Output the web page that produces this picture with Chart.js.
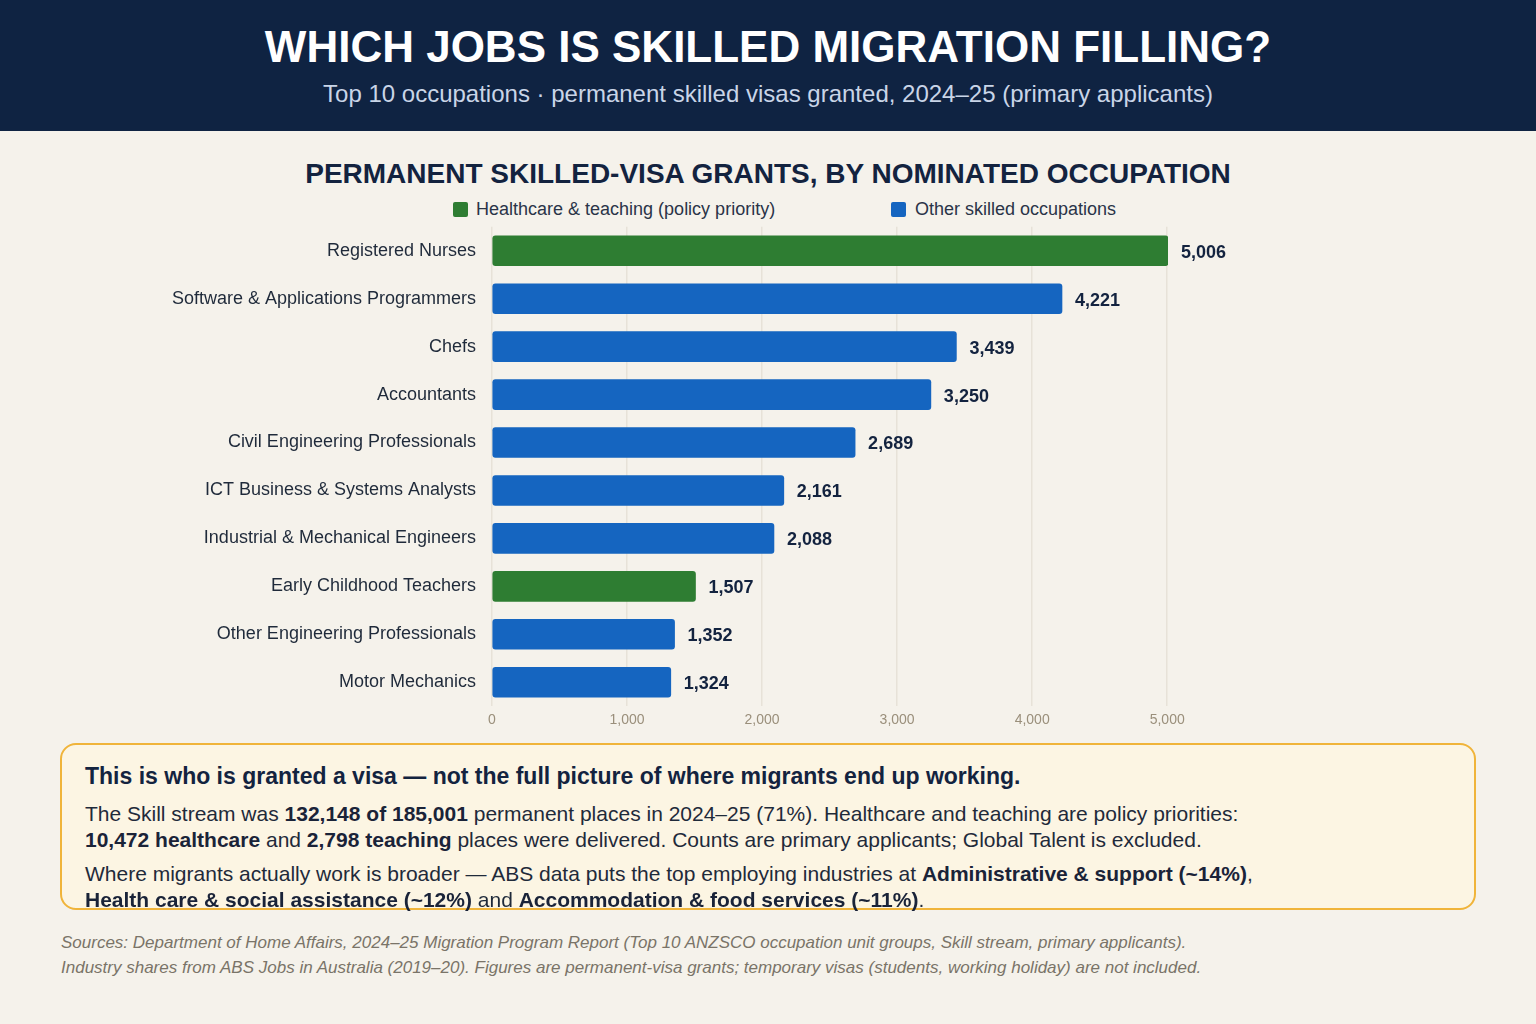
<!DOCTYPE html>
<html>
<head>
<meta charset="utf-8">
<script src="https://cdn.jsdelivr.net/npm/chart.js@4.4.1/dist/chart.umd.min.js"></script>
<style>
  html, body { margin:0; padding:0; }
  body { width:1536px; height:1024px; background:#f5f2eb; font-family:"Liberation Sans", Arial, Helvetica, sans-serif; position:relative; overflow:hidden; }
  .header { position:absolute; left:0; top:0; width:1536px; height:131px; background:#0f2342; }
  .header h1 { position:absolute; left:0; width:100%; top:20px; margin:0; text-align:center; color:#fff; font-size:44px; line-height:54px; font-weight:bold; }
  .header .sub { position:absolute; left:0; width:100%; top:80px; text-align:center; color:#c9d5e8; font-size:24px; line-height:28px; }
  .ctitle { position:absolute; left:0; width:1536px; top:157px; text-align:center; color:#13233f; font-size:28px; line-height:34px; font-weight:bold; }
  .legend { position:absolute; top:199px; left:0; width:1536px; height:22px; }
  .legend span { position:absolute; top:0; font-size:18px; line-height:20px; color:#2a3448; white-space:nowrap; }
  .legend i { position:absolute; top:3px; width:15px; height:15px; border-radius:2px; }
  #wrap { position:absolute; left:0; top:200px; width:1536px; height:547px; }
  .note { position:absolute; left:60px; top:743px; width:1412px; height:163px; background:#fcf5e3; border:2px solid #f0b43a; border-radius:16px; }
  .note p { position:absolute; left:23px; margin:0; color:#1f2a3a; font-size:21px; line-height:26px; white-space:nowrap; }
  .note p b { color:#1a2338; }
  .note .hd { top:18px; font-size:23px; font-weight:bold; color:#13233f; }
  .foot { position:absolute; left:61px; color:#7a7468; font-style:italic; font-size:17px; line-height:20px; white-space:nowrap; }
</style>
</head>
<body>
<div class="header">
  <h1>WHICH JOBS IS SKILLED MIGRATION FILLING?</h1>
  <div class="sub">Top 10 occupations · permanent skilled visas granted, 2024–25 (primary applicants)</div>
</div>
<div class="ctitle">PERMANENT SKILLED-VISA GRANTS, BY NOMINATED OCCUPATION</div>
<div class="legend">
  <i style="left:453px;background:#2e7d32"></i><span style="left:476px">Healthcare &amp; teaching (policy priority)</span>
  <i style="left:891px;background:#1565c0"></i><span style="left:915px">Other skilled occupations</span>
</div>
<div id="wrap"><canvas id="chart"></canvas></div>
<div class="note">
  <p class="hd">This is who is granted a visa — not the full picture of where migrants end up working.</p>
  <p style="top:56px">The Skill stream was <b>132,148 of 185,001</b> permanent places in 2024–25 (71%). Healthcare and teaching are policy priorities:</p>
  <p style="top:82px"><b>10,472 healthcare</b> and <b>2,798 teaching</b> places were delivered. Counts are primary applicants; Global Talent is excluded.</p>
  <p style="top:116px">Where migrants actually work is broader — ABS data puts the top employing industries at <b>Administrative &amp; support (~14%)</b>,</p>
  <p style="top:142px"><b>Health care &amp; social assistance (~12%)</b> and <b>Accommodation &amp; food services (~11%)</b>.</p>
</div>
<div class="foot" style="top:933px">Sources: Department of Home Affairs, 2024–25 Migration Program Report (Top 10 ANZSCO occupation unit groups, Skill stream, primary applicants).</div>
<div class="foot" style="top:958px">Industry shares from ABS Jobs in Australia (2019–20). Figures are permanent-visa grants; temporary visas (students, working holiday) are not included.</div>

<script>
var occupations = ["Registered Nurses","Software & Applications Programmers","Chefs","Accountants","Civil Engineering Professionals","ICT Business & Systems Analysts","Industrial & Mechanical Engineers","Early Childhood Teachers","Other Engineering Professionals","Motor Mechanics"];
var grants = [5006, 4221, 3439, 3250, 2689, 2161, 2088, 1507, 1352, 1324];
var priority = [true, false, false, false, false, false, false, true, false, false];
var tickValues = [0, 1000, 2000, 3000, 4000, 5000];

var GREEN = "#2e7d32", BLUE = "#1565c0";

// value labels at the end of each bar
var valueLabels = {
  id: "valueLabels",
  afterDatasetsDraw: function(chart){
    var ctx = chart.ctx;
    var meta = chart.getDatasetMeta(0);
    ctx.save();
    ctx.font = "bold 18px 'Liberation Sans', Arial, sans-serif";
    ctx.fillStyle = "#13233f";
    ctx.textBaseline = "middle";
    ctx.textAlign = "left";
    meta.data.forEach(function(bar, i){
      ctx.fillText(grants[i].toLocaleString("en-US"), bar.x + 13, bar.y + 2);
    });
    ctx.restore();
  }
};

new Chart(document.getElementById("chart"), {
  type: "bar",
  data: {
    labels: occupations,
    datasets: [{
      data: grants,
      backgroundColor: priority.map(function(p){ return p ? GREEN : BLUE; }),
      barThickness: 30,
      borderRadius: 3,
      borderSkipped: false
    }]
  },
  options: {
    indexAxis: "y",
    responsive: true,
    maintainAspectRatio: false,
    animation: false,
    layout: { padding: { left: 172, right: 368, top: 6, bottom: 12 } },
    plugins: { legend: { display: false }, tooltip: { enabled: false } },
    scales: {
      x: {
        min: 0,
        max: 5006,
        border: { display: false },
        grid: { color: "#e7e2d8", lineWidth: 1.5, drawTicks: false },
        afterBuildTicks: function(scale){
          scale.ticks = tickValues.map(function(v){ return { value: v }; });
        },
        ticks: {
          padding: 6,
          color: "#9a8f7b",
          font: { family: "'Liberation Sans', Arial, sans-serif", size: 14 },
          callback: function(v){ return Number(v).toLocaleString("en-US"); }
        }
      },
      y: {
        border: { display: false },
        grid: { display: false, drawTicks: false },
        afterFit: function(scale){ scale.width = 320; },
        ticks: {
          padding: 16,
          color: "#1f2a3a",
          font: { family: "'Liberation Sans', Arial, sans-serif", size: 18 }
        }
      }
    }
  },
  plugins: [valueLabels]
});
</script>
</body>
</html>
